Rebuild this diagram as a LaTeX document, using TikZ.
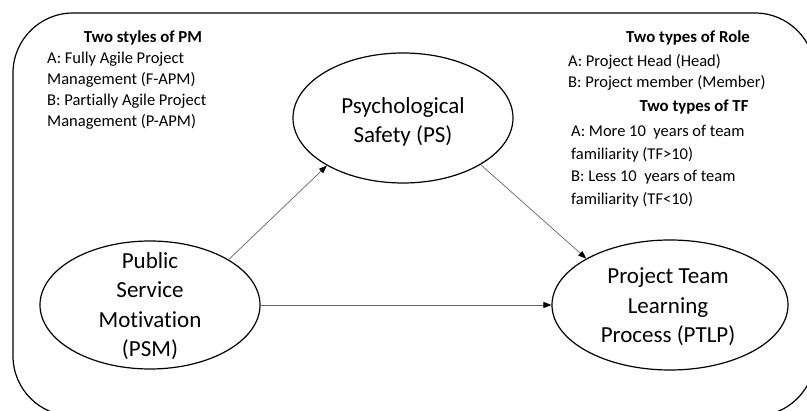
\documentclass[tikz,border=0pt]{standalone}
\usepackage{fontspec}
\setmainfont[Ligatures=NoCommon]{Carlito}
\usetikzlibrary{arrows.meta,shapes.geometric}
\begin{document}
\begin{tikzpicture}[x=1pt,y=-1pt,
  var/.style={draw=black,line width=1.2pt,ellipse,inner sep=0pt},
  vtxt/.style={align=center,font=\fontsize{23}{29.5}\selectfont,inner sep=0pt},
  small/.style={align=left,font=\fontsize{16.5}{21}\selectfont,inner sep=0pt,anchor=north west},
  head/.style={font=\bfseries\fontsize{16.8}{21}\selectfont,inner sep=0pt},
  conn/.style={draw=black!60,line width=0.7pt,-{Triangle[length=8pt,width=6pt,black]}}]
\useasboundingbox (0,0) rectangle (807,411);
\clip (0,0) rectangle (807,411);
\draw[line width=1.2pt, rounded corners=60pt] (13,13) rectangle (815,416);

\node[var,minimum width=220pt,minimum height=130pt] (ps) at (403,118) {};
\node[var,minimum width=220pt,minimum height=128pt] (psm) at (150,305) {};
\node[var,minimum width=236pt,minimum height=130pt] (ptlp) at (670,305) {};

\node[vtxt] (pstxt) at (403,122) {Psychological\\Safety (PS)};
\node[vtxt] (psmtxt) at (150,306) {Public\\Service\\Motivation\\(PSM)};
\node[vtxt] (ptlptxt) at (668,307) {Project Team\\Learning\\Process (PTLP)};

\node[head] (pmhead) at (143,38) {Two styles of PM};
\node[small] (pmbody) at (47,52) {A: Fully Agile Project\\Management (F-APM)\\B: Partially Agile Project\\Management (P-APM)};

\node[head] (rolehead) at (688,38) {Two types of Role};
\node[small,font=\fontsize{16.5}{21.5}\selectfont] (rolebody) at (568,54) {A: Project Head (Head)\\B: Project member (Member)};

\node[head] (tfhead) at (694,107) {Two types of TF};
\node[small,font=\fontsize{16.5}{22.5}\selectfont] (tfbody) at (571,125) {A: More 10~ years of team\\familiarity (TF>10)\\B: Less 10~ years of team\\familiarity (TF<10)};

\draw[conn] (psm.30) -- (ps.212);
\draw[conn] (ps.329) -- (ptlp.151);
\draw[conn] (psm.east) -- (ptlp.west);
\end{tikzpicture}
\end{document}
